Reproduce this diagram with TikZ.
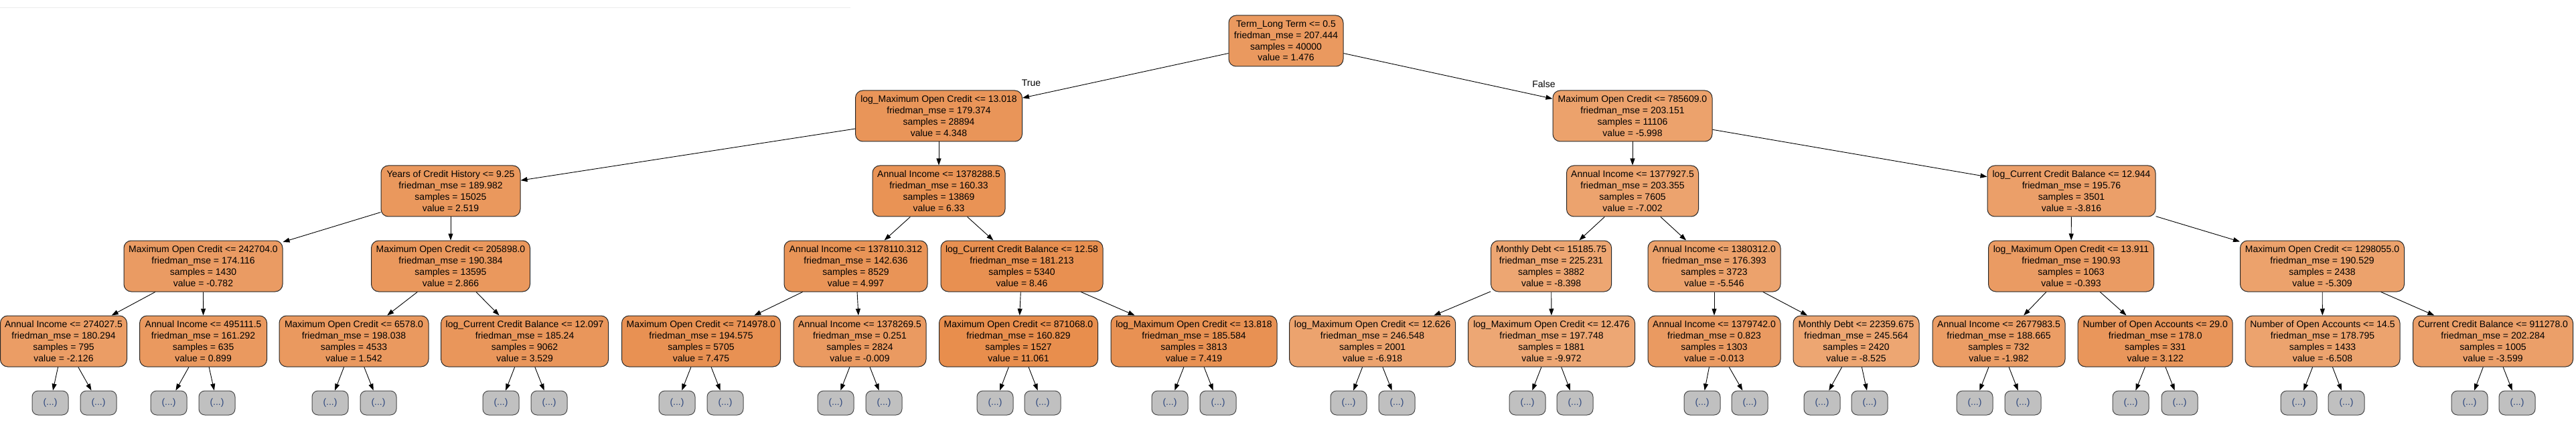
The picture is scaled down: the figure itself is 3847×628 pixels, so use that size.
\documentclass[tikz,border=0pt]{standalone}
\usepackage{fontspec}
\setmainfont{Liberation Sans}
\usetikzlibrary{arrows.meta}
\definecolor{treeor}{RGB}{229,129,57}
\definecolor{leafgray}{RGB}{192,192,192}
\definecolor{leaftext}{RGB}{45,70,125}
\tikzset{
  tn/.style={draw=black!85, line width=1pt, rounded corners=11pt, minimum height=76pt,
    inner sep=0pt, align=center, font=\fontsize{14pt}{16.7pt}\selectfont, text=black},
  leaf/.style={draw=black!70, line width=1pt, rounded corners=9pt, fill=leafgray,
    minimum width=54pt, minimum height=36pt, inner sep=0pt,
    font=\fontsize{14pt}{16.7pt}\selectfont, text=leaftext},
  edge/.style={draw=black, line width=0.9pt, -{Triangle[length=10pt,width=7pt]}},
  elabel/.style={font=\fontsize{14pt}{16.7pt}\selectfont, inner sep=0pt}
}
\begin{document}
\begin{tikzpicture}[x=1pt,y=-1pt]
\useasboundingbox[fill=white] (0,0) rectangle (3847,628);
\draw[draw={rgb,255:red,235;green,235;blue,235}, line width=1pt] (0,12) -- (1270,12);
% level 0
\node[tn, minimum width=171pt, fill=treeor!81!white] (r) at (1920.5,61) {Term\_Long Term <= 0.5\\friedman\_mse = 207.444\\samples = 40000\\value = 1.476};
% level 1
\node[tn, minimum width=249pt, fill=treeor!84!white] (a) at (1402,173) {log\_Maximum Open Credit <= 13.018\\friedman\_mse = 179.374\\samples = 28894\\value = 4.348};
\node[tn, minimum width=238pt, fill=treeor!74!white] (b) at (2438,173) {Maximum Open Credit <= 785609.0\\friedman\_mse = 203.151\\samples = 11106\\value = -5.998};
% level 2
\node[tn, minimum width=208pt, fill=treeor!82!white] (a1) at (673,285) {Years of Credit History <= 9.25\\friedman\_mse = 189.982\\samples = 15025\\value = 2.519};
\node[tn, minimum width=198pt, fill=treeor!86!white] (a2) at (1402,285) {Annual Income <= 1378288.5\\friedman\_mse = 160.33\\samples = 13869\\value = 6.33};
\node[tn, minimum width=197pt, fill=treeor!73!white] (b1) at (2438,285) {Annual Income <= 1377927.5\\friedman\_mse = 203.355\\samples = 7605\\value = -7.002};
\node[tn, minimum width=251pt, fill=treeor!76!white] (b2) at (3093.5,285) {log\_Current Credit Balance <= 12.944\\friedman\_mse = 195.76\\samples = 3501\\value = -3.816};
% level 3
\node[tn, minimum width=237pt, fill=treeor!79!white] (d1) at (303.5,397) {Maximum Open Credit <= 242704.0\\friedman\_mse = 174.116\\samples = 1430\\value = -0.782};
\node[tn, minimum width=237pt, fill=treeor!82!white] (d2) at (673,397) {Maximum Open Credit <= 205898.0\\friedman\_mse = 190.384\\samples = 13595\\value = 2.866};
\node[tn, minimum width=214pt, fill=treeor!85!white] (d3) at (1278,397) {Annual Income <= 1378110.312\\friedman\_mse = 142.636\\samples = 8529\\value = 4.997};
\node[tn, minimum width=242pt, fill=treeor!88!white] (d4) at (1526,397) {log\_Current Credit Balance <= 12.58\\friedman\_mse = 181.213\\samples = 5340\\value = 8.46};
\node[tn, minimum width=180pt, fill=treeor!71!white] (d5) at (2316.6,397) {Monthly Debt <= 15185.75\\friedman\_mse = 225.231\\samples = 3882\\value = -8.398};
\node[tn, minimum width=198pt, fill=treeor!74!white] (d6) at (2560,397) {Annual Income <= 1380312.0\\friedman\_mse = 176.393\\samples = 3723\\value = -5.546};
\node[tn, minimum width=247pt, fill=treeor!79!white] (d7) at (3093,397) {log\_Maximum Open Credit <= 13.911\\friedman\_mse = 190.93\\samples = 1063\\value = -0.393};
\node[tn, minimum width=245pt, fill=treeor!74!white] (d8) at (3468,397) {Maximum Open Credit <= 1298055.0\\friedman\_mse = 190.529\\samples = 2438\\value = -5.309};
% level 4
\node[tn, minimum width=189pt, fill=treeor!78!white] (c1) at (95,509) {Annual Income <= 274027.5\\friedman\_mse = 180.294\\samples = 795\\value = -2.126};
\node[tn, minimum width=190pt, fill=treeor!81!white] (c2) at (303.6,509) {Annual Income <= 495111.5\\friedman\_mse = 161.292\\samples = 635\\value = 0.899};
\node[tn, minimum width=223pt, fill=treeor!81!white] (c3) at (528.5,509) {Maximum Open Credit <= 6578.0\\friedman\_mse = 198.038\\samples = 4533\\value = 1.542};
\node[tn, minimum width=250pt, fill=treeor!83!white] (c4) at (783.6,509) {log\_Current Credit Balance <= 12.097\\friedman\_mse = 185.24\\samples = 9062\\value = 3.529};
\node[tn, minimum width=237pt, fill=treeor!87!white] (c5) at (1047,509) {Maximum Open Credit <= 714978.0\\friedman\_mse = 194.575\\samples = 5705\\value = 7.475};
\node[tn, minimum width=198pt, fill=treeor!80!white] (c6) at (1284,509) {Annual Income <= 1378269.5\\friedman\_mse = 0.251\\samples = 2824\\value = -0.009};
\node[tn, minimum width=237pt, fill=treeor!90!white] (c7) at (1521,509) {Maximum Open Credit <= 871068.0\\friedman\_mse = 160.829\\samples = 1527\\value = 11.061};
\node[tn, minimum width=248pt, fill=treeor!87!white] (c8) at (1783,509) {log\_Maximum Open Credit <= 13.818\\friedman\_mse = 185.584\\samples = 3813\\value = 7.419};
\node[tn, minimum width=248pt, fill=treeor!73!white] (c9) at (2049.6,509) {log\_Maximum Open Credit <= 12.626\\friedman\_mse = 246.548\\samples = 2001\\value = -6.918};
\node[tn, minimum width=249pt, fill=treeor!70!white] (c10) at (2317,509) {log\_Maximum Open Credit <= 12.476\\friedman\_mse = 197.748\\samples = 1881\\value = -9.972};
\node[tn, minimum width=198pt, fill=treeor!80!white] (c11) at (2560,509) {Annual Income <= 1379742.0\\friedman\_mse = 0.823\\samples = 1303\\value = -0.013};
\node[tn, minimum width=188pt, fill=treeor!71!white] (c12) at (2772,509) {Monthly Debt <= 22359.675\\friedman\_mse = 245.564\\samples = 2420\\value = -8.525};
\node[tn, minimum width=198pt, fill=treeor!78!white] (c13) at (2985,509) {Annual Income <= 2677983.5\\friedman\_mse = 188.665\\samples = 732\\value = -1.982};
\node[tn, minimum width=231pt, fill=treeor!83!white] (c14) at (3218.7,509) {Number of Open Accounts <= 29.0\\friedman\_mse = 178.0\\samples = 331\\value = 3.122};
\node[tn, minimum width=231pt, fill=treeor!73!white] (c15) at (3468.5,509) {Number of Open Accounts <= 14.5\\friedman\_mse = 178.795\\samples = 1433\\value = -6.508};
\node[tn, minimum width=239pt, fill=treeor!76!white] (c16) at (3723,509) {Current Credit Balance <= 911278.0\\friedman\_mse = 202.284\\samples = 1005\\value = -3.599};
% edges
\draw[edge] (r) -- (a);
\draw[edge] (r) -- (b);
\node[elabel] (tl) at (1540,124) {True};
\node[elabel] (fl) at (2305.5,125.5) {False};
\draw[edge] (a) -- (a1);
\draw[edge] (a) -- (a2);
\draw[edge] (b) -- (b1);
\draw[edge] (b) -- (b2);
\draw[edge] (a1) -- (d1);
\draw[edge] (a1) -- (d2);
\draw[edge] (a2) -- (d3);
\draw[edge] (a2) -- (d4);
\draw[edge] (b1) -- (d5);
\draw[edge] (b1) -- (d6);
\draw[edge] (b2) -- (d7);
\draw[edge] (b2) -- (d8);
\draw[edge] (d1) -- (c1);
\draw[edge] (d1) -- (c2);
\draw[edge] (d2) -- (c3);
\draw[edge] (d2) -- (c4);
\draw[edge] (d3) -- (c5);
\draw[edge] (d3) -- (c6);
\draw[edge] (d4) -- (c7);
\draw[edge] (d4) -- (c8);
\draw[edge] (d5) -- (c9);
\draw[edge] (d5) -- (c10);
\draw[edge] (d6) -- (c11);
\draw[edge] (d6) -- (c12);
\draw[edge] (d7) -- (c13);
\draw[edge] (d7) -- (c14);
\draw[edge] (d8) -- (c15);
\draw[edge] (d8) -- (c16);
% leaves
\foreach \p/\x [count=\i] in {c1/75, c1/147, c2/252, c2/324, c3/493, c3/565, c4/748, c4/820,
  c5/1011, c5/1083, c6/1248, c6/1320, c7/1486, c7/1557, c8/1747, c8/1819,
  c9/2014, c9/2086, c10/2281, c10/2352, c11/2542, c11/2613, c12/2721, c12/2792,
  c13/2949, c13/3021, c14/3182, c14/3255, c15/3433, c15/3504, c16/3688, c16/3759}{
  \node[leaf] (l\i) at (\x,601) {(...)};
  \draw[edge] (\p) -- (l\i);
}
\end{tikzpicture}
\end{document}
